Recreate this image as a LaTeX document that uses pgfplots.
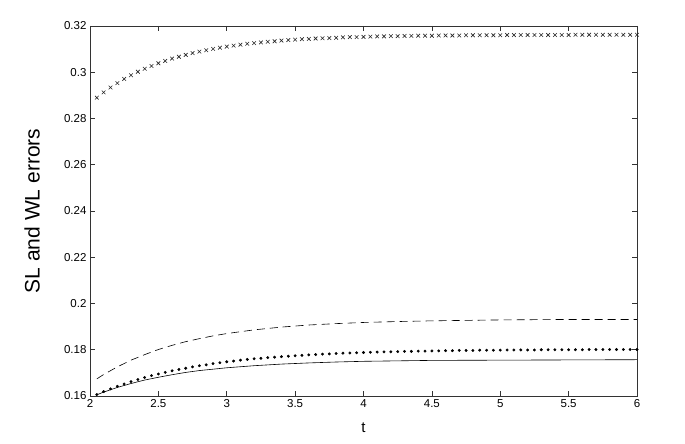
\documentclass[border=0pt]{standalone}
\usepackage{pgfplots}
\pgfplotsset{compat=1.18}
\usepackage{pgfplotstable}
\usepackage{fontspec}
\setmainfont{Liberation Sans}

\pgfplotstableread{
t y
2.05 0.2890
2.10 0.2913
2.15 0.2934
2.20 0.2953
2.25 0.2971
2.30 0.2987
2.35 0.3002
2.40 0.3015
2.45 0.3027
2.50 0.3039
2.55 0.3049
2.60 0.3059
2.65 0.3067
2.70 0.3075
2.75 0.3083
2.80 0.3089
2.85 0.3095
2.90 0.3101
2.95 0.3106
3.00 0.3111
3.05 0.3115
3.10 0.3119
3.15 0.3123
3.20 0.3126
3.25 0.3129
3.30 0.3132
3.35 0.3134
3.40 0.3137
3.45 0.3139
3.50 0.3141
3.55 0.3143
3.60 0.3144
3.65 0.3146
3.70 0.3147
3.75 0.3148
3.80 0.3149
3.85 0.3151
3.90 0.3152
3.95 0.3152
4.00 0.3153
4.05 0.3154
4.10 0.3155
4.15 0.3155
4.20 0.3156
4.25 0.3156
4.30 0.3157
4.35 0.3157
4.40 0.3158
4.45 0.3158
4.50 0.3158
4.55 0.3159
4.60 0.3159
4.65 0.3159
4.70 0.3159
4.75 0.3160
4.80 0.3160
4.85 0.3160
4.90 0.3160
4.95 0.3160
5.00 0.3160
5.05 0.3161
5.10 0.3161
5.15 0.3161
5.20 0.3161
5.25 0.3161
5.30 0.3161
5.35 0.3161
5.40 0.3161
5.45 0.3161
5.50 0.3161
5.55 0.3162
5.60 0.3162
5.65 0.3162
5.70 0.3162
5.75 0.3162
5.80 0.3162
5.85 0.3162
5.90 0.3162
5.95 0.3162
6.00 0.3162
}\crosses

\pgfplotstableread{
t y
2.05 0.1606
2.10 0.1619
2.15 0.1631
2.20 0.1642
2.25 0.1652
2.30 0.1662
2.35 0.1671
2.40 0.1680
2.45 0.1688
2.50 0.1695
2.55 0.1702
2.60 0.1709
2.65 0.1715
2.70 0.1720
2.75 0.1726
2.80 0.1731
2.85 0.1735
2.90 0.1740
2.95 0.1744
3.00 0.1748
3.05 0.1751
3.10 0.1755
3.15 0.1758
3.20 0.1761
3.25 0.1763
3.30 0.1766
3.35 0.1768
3.40 0.1770
3.45 0.1772
3.50 0.1774
3.55 0.1776
3.60 0.1778
3.65 0.1779
3.70 0.1781
3.75 0.1782
3.80 0.1784
3.85 0.1785
3.90 0.1786
3.95 0.1787
4.00 0.1788
4.05 0.1789
4.10 0.1790
4.15 0.1791
4.20 0.1791
4.25 0.1792
4.30 0.1793
4.35 0.1793
4.40 0.1794
4.45 0.1794
4.50 0.1795
4.55 0.1795
4.60 0.1796
4.65 0.1796
4.70 0.1797
4.75 0.1797
4.80 0.1797
4.85 0.1798
4.90 0.1798
4.95 0.1798
5.00 0.1798
5.05 0.1799
5.10 0.1799
5.15 0.1799
5.20 0.1799
5.25 0.1799
5.30 0.1800
5.35 0.1800
5.40 0.1800
5.45 0.1800
5.50 0.1800
5.55 0.1800
5.60 0.1800
5.65 0.1801
5.70 0.1801
5.75 0.1801
5.80 0.1801
5.85 0.1801
5.90 0.1801
5.95 0.1801
6.00 0.1801
}\dots

\pgfplotstableread{
t y
2.05 0.1674
2.10 0.1693
2.20 0.1726
2.30 0.1755
2.40 0.1779
2.50 0.1801
2.60 0.1819
2.70 0.1835
2.80 0.1848
2.90 0.1860
3.00 0.1870
3.20 0.1886
3.40 0.1898
3.60 0.1907
3.80 0.1913
4.00 0.1918
4.25 0.1922
4.50 0.1925
4.75 0.1927
5.00 0.1929
5.50 0.1931
6.00 0.1931
}\dashed

\pgfplotstableread{
t y
2.05 0.1605
2.10 0.1617
2.20 0.1637
2.30 0.1654
2.40 0.1669
2.50 0.1681
2.60 0.1692
2.70 0.1702
2.80 0.1710
2.90 0.1716
3.00 0.1722
3.20 0.1731
3.40 0.1738
3.60 0.1743
3.80 0.1747
4.00 0.1750
4.25 0.1752
4.50 0.1754
5.00 0.1755
5.50 0.1756
6.00 0.1757
}\solid

\begin{document}
\begin{tikzpicture}
\useasboundingbox (0,0) rectangle (685pt,444pt);
\begin{axis}[
  at={(90pt,48pt)}, anchor=south west,
  scale only axis, width=547pt, height=370pt,
  xmin=2, xmax=6, ymin=0.16, ymax=0.32,
  enlargelimits=false,
  xtick={2,2.5,3,3.5,4,4.5,5,5.5,6},
  ytick={0.16,0.18,0.2,0.22,0.24,0.26,0.28,0.3,0.32},
  yticklabels={0.16,0.18,0.2,0.22,0.24,0.26,0.28,0.3,0.32},
  xticklabels={2,2.5,3,3.5,4,4.5,5,5.5,6},
  scaled y ticks=false,
  tick align=inside,
  major tick length=5pt,
  axis line style={black!80, line width=0.8pt},
  tick style={black!80, line width=0.7pt},
  ticklabel style={font=\fontsize{11.5}{13}\selectfont},
  /pgf/number format/assume math mode=true,
  xlabel={t},
  ylabel={SL and WL errors},
  xlabel style={at={(axis description cs:0.5,0)}, anchor=center, yshift=-32pt, font=\fontsize{15}{17}\selectfont},
  ylabel style={at={(axis description cs:-0.106,0.5)}, anchor=center, font=\fontsize{21}{24}\selectfont},
  clip mode=individual,
]
\addplot[only marks, mark=x, mark size=2.6pt, mark options={line width=0.6pt, black!85}] table[x=t,y=y] {\crosses};
\addplot[only marks, mark=*, mark size=1.25pt, mark options={black, draw=none, fill=black}] table[x=t,y=y] {\dots};
\addplot[black, line width=0.6pt, dash pattern=on 8pt off 5pt] table[x=t,y=y] {\dashed};
\addplot[black, line width=0.6pt] table[x=t,y=y] {\solid};
\end{axis}
\end{tikzpicture}
\end{document}
